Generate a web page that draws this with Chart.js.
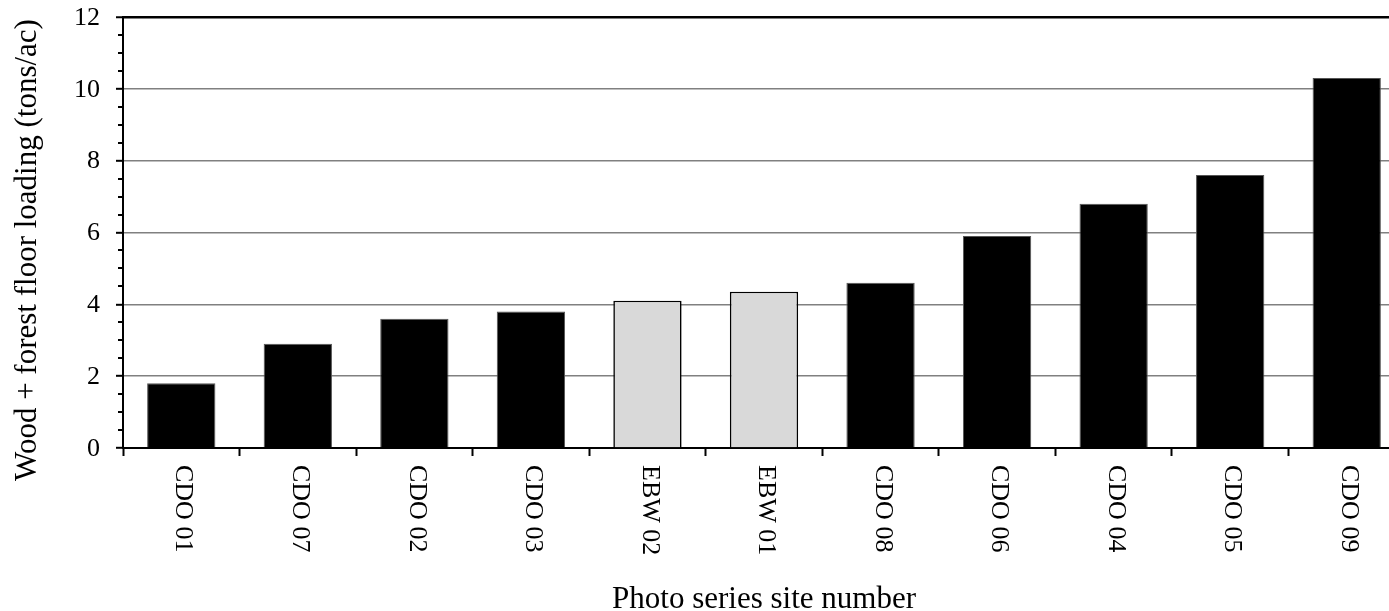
<!DOCTYPE html>
<html>
<head>
<meta charset="utf-8">
<script src="https://cdn.jsdelivr.net/npm/chart.js@4"></script>
<style>
    html, body { margin: 0; padding: 0; background: #fff; overflow: hidden; }
    /* the reference is cut off on the right, so the chart is a bit wider than the window */
    #wrap { position: relative; width: 1410px; height: 611px; }
</style>
</head>
<body>
<div id="wrap"><canvas id="woodChart"></canvas></div>
<script>
// --- data ---
const sites = ['CDO 01', 'CDO 07', 'CDO 02', 'CDO 03', 'EBW 02', 'EBW 01', 'CDO 08', 'CDO 06', 'CDO 04', 'CDO 05', 'CDO 09'];
const loading = [1.8, 2.9, 3.6, 3.8, 4.1, 4.35, 4.6, 5.9, 6.8, 7.6, 10.3];
const yTicks = [0, 2, 4, 6, 8, 10, 12];

const SERIF = '"Liberation Serif", "Times New Roman", serif';
const isEBW = sites.map(s => s.startsWith('EBW'));

// tick labels, short minor ticks and axis titles drawn by hand (x labels read top to bottom)
const textPlugin = {
    id: 'textPlugin',
    afterDraw(chart) {
        const ctx = chart.ctx;
        const xs = chart.scales.x;
        const ys = chart.scales.y;
        const area = chart.chartArea;
        ctx.save();

        // minor ticks on the y axis (every 0.5)
        ctx.strokeStyle = '#000';
        ctx.lineWidth = 2;
        ys.ticks.filter(t => !yTicks.includes(t.value)).forEach(t => {
            const py = Math.round(ys.getPixelForValue(t.value));
            ctx.beginPath();
            ctx.moveTo(area.left - 5, py);
            ctx.lineTo(area.left, py);
            ctx.stroke();
        });

        ctx.fillStyle = '#000';
        ctx.font = '26px ' + SERIF;

        // y labels
        ctx.textAlign = 'right';
        ctx.textBaseline = 'middle';
        yTicks.forEach(v => ctx.fillText(String(v), area.left - 23, ys.getPixelForValue(v) + 1));

        // x labels
        ctx.textAlign = 'left';
        sites.forEach((s, i) => {
            ctx.save();
            ctx.translate(xs.getPixelForTick(i) + 2, area.bottom + 17);
            ctx.rotate(Math.PI / 2);
            ctx.fillText(s, 0, 0);
            ctx.restore();
        });

        ctx.font = '31px ' + SERIF;
        ctx.textAlign = 'center';
        ctx.textBaseline = 'alphabetic';
        ctx.fillText('Photo series site number', (area.left + area.right) / 2, 608);

        ctx.save();
        ctx.translate(36, 250);
        ctx.rotate(-Math.PI / 2);
        ctx.fillText('Wood + forest floor loading (tons/ac)', 0, 0);
        ctx.restore();
        ctx.restore();
    }
};

const chart = new Chart(document.getElementById('woodChart'), {
    type: 'bar',
    data: {
        labels: sites,
        datasets: [{
            data: loading,
            backgroundColor: isEBW.map(e => e ? '#d9d9d9' : '#000'),
            borderColor: isEBW.map(e => e ? '#000' : '#555'),
            borderWidth: isEBW.map(e => e ? 1.6 : 1),
            barPercentage: 0.586,
            categoryPercentage: 1
        }]
    },
    options: {
        responsive: true,
        maintainAspectRatio: false,
        animation: false,
        layout: { padding: { top: 17, right: 5, bottom: 0, left: 0 } },
        plugins: {
            legend: { display: false },
            tooltip: { enabled: false }
        },
        scales: {
            x: {
                offset: true,
                grid: {
                    offset: true,
                    drawOnChartArea: false,
                    drawTicks: true,
                    tickLength: 8,
                    tickColor: '#000',
                    tickWidth: 2
                },
                border: { display: true, color: '#000', width: 2 },
                ticks: { display: false },
                afterFit(scale) { scale.height = 163; }
            },
            y: {
                min: 0,
                max: 12,
                ticks: { display: false, stepSize: 0.5, autoSkip: false },
                grid: {
                    color: c => {
                        const v = c.tick ? c.tick.value : null;
                        if (v === 12) return '#000';
                        if (v > 0 && yTicks.includes(v)) return '#808080';
                        return 'rgba(0,0,0,0)';
                    },
                    lineWidth: c => (c.tick && c.tick.value === 12) ? 2.5 : 1.6,
                    tickColor: c => (c.tick && yTicks.includes(c.tick.value)) ? '#000' : 'rgba(0,0,0,0)',
                    tickLength: 7,
                    tickWidth: 2
                },
                border: { display: true, color: '#000', width: 2 },
                afterFit(scale) { scale.width = 123; }
            }
        }
    },
    plugins: [textPlugin]
});
</script>
</body>
</html>
